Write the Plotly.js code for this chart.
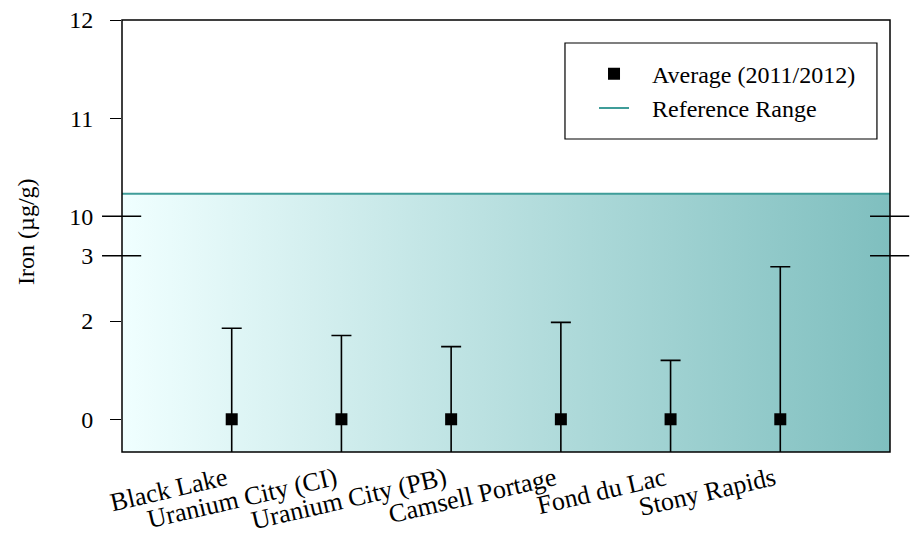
<!DOCTYPE html>
<html>
<head>
<meta charset="utf-8">
<script src="https://cdn.plot.ly/plotly-3.0.1.min.js"></script>
<style>html,body{margin:0;padding:0;background:#fff;}#chart{width:915px;height:536px;}</style>
</head>
<body>
<div id="chart"></div>
<script>
// ---- data ----
const sites = ['Black Lake', 'Uranium City (CI)', 'Uranium City (PB)', 'Camsell Portage', 'Fond du Lac', 'Stony Rapids'];
const avgIron = [0, 0, 0, 0, 0, 0];
const errIron = [1.39, 1.28, 1.11, 1.48, 0.90, 2.33];
const refLow = -1;
const refHigh = 10.23;
const lowerTickVals = [0, 1.5, 2.5];
const lowerTickText = ['0', '2', '3'];
const upperTickVals = [10, 11, 12];
const upperTickText = ['10', '11', '12'];
const avgName = 'Average (2011/2012)';
const refName = 'Reference Range';

// ---- layout helpers ----
const FONT = 'Liberation Serif, Times New Roman, serif';
const PAD = '\u00a0\u00a0\u00a0';
const xPos = sites.map((_, i) => i);
const xRange = [-1, sites.length];
const lowerRange = [-0.5, 2.8];
const upperRange = [9.8, 12];
const gradient = {type: 'horizontal', colorscale: [[0, '#f0ffff'], [1, '#7fbfbf']], start: xRange[0], stop: xRange[1]};
const bandX = [xRange[0], xRange[1], xRange[1], xRange[0]];
const bandY = [refLow, refLow, refHigh, refHigh];

const traces = [
  {x: bandX, y: bandY, xaxis: 'x', yaxis: 'y', type: 'scatter', mode: 'lines', fill: 'toself',
   fillgradient: gradient, line: {width: 0}, showlegend: false, hoverinfo: 'skip'},
  {x: bandX, y: bandY, xaxis: 'x', yaxis: 'y2', type: 'scatter', mode: 'lines', fill: 'toself',
   fillgradient: gradient, line: {width: 0}, showlegend: false, hoverinfo: 'skip'},
  {x: [xRange[0], xRange[1]], y: [refHigh, refHigh], xaxis: 'x', yaxis: 'y2', type: 'scatter', mode: 'lines',
   line: {color: '#3f9d99', width: 2}, name: PAD + refName, legendrank: 2},
  {x: xPos, y: avgIron, xaxis: 'x', yaxis: 'y', type: 'scatter', mode: 'markers',
   marker: {symbol: 'square', size: 12, color: '#000'},
   error_y: {type: 'data', array: errIron, symmetric: true, color: '#000', thickness: 1.6, width: 10},
   name: PAD + avgName, legendrank: 1}
];

const breakShapes = [];
[['y2', upperTickVals[0]], ['y', lowerTickVals[lowerTickVals.length - 1]]].forEach(([yr, v]) => {
  breakShapes.push({type: 'line', xref: 'paper', yref: yr, x0: -0.026, x1: 0.025, y0: v, y1: v, line: {color: '#000', width: 1.5}});
  breakShapes.push({type: 'line', xref: 'paper', yref: yr, x0: 0.974, x1: 1.025, y0: v, y1: v, line: {color: '#000', width: 1.5}});
});

const layout = {
  width: 915, height: 536,
  margin: {l: 122, r: 25, t: 20, b: 84},
  paper_bgcolor: '#fff', plot_bgcolor: '#fff',
  font: {family: FONT, size: 24, color: '#000'},
  showlegend: true,
  xaxis: {range: xRange, tickvals: xPos, ticktext: sites, tickangle: -13, ticks: '', showgrid: false,
          zeroline: false, showline: false, tickfont: {size: 26, family: FONT, color: '#000'}, anchor: 'y',
          ticklabelshift: -6, ticklabelstandoff: 6},
  yaxis: {domain: [0, 0.5], range: lowerRange, tickvals: lowerTickVals, ticktext: lowerTickText,
          ticks: 'outside', ticklen: 11, tickcolor: '#000', tickwidth: 1, ticklabelstandoff: 12,
          showgrid: false, zeroline: false, showline: false, anchor: 'x'},
  yaxis2: {domain: [0.5, 1], range: upperRange, tickvals: upperTickVals, ticktext: upperTickText,
           ticks: 'outside', ticklen: 11, tickcolor: '#000', tickwidth: 1, ticklabelstandoff: 12,
           showgrid: false, zeroline: false, showline: false, anchor: 'x'},
  legend: {x: 0.6146, xanchor: 'left', y: 0.9266, yanchor: 'top', bgcolor: 'rgba(0,0,0,0)', borderwidth: 0,
           font: {family: FONT, size: 24, color: '#000'}, itemwidth: 30},
  shapes: [
    {type: 'rect', xref: 'paper', yref: 'paper', x0: 0, x1: 1, y0: 0, y1: 1, line: {color: '#000', width: 1.5}, fillcolor: 'rgba(0,0,0,0)'},
    {type: 'rect', xref: 'paper', yref: 'paper', x0: 0.5768, x1: 0.983, y0: 0.7245, y1: 0.9468, line: {color: '#000', width: 1.2}, fillcolor: 'rgba(0,0,0,0)'}
  ].concat(breakShapes),
  annotations: [
    {text: 'Iron (µg/g)', xref: 'paper', yref: 'paper', x: -0.126, y: 0.51, xanchor: 'center', yanchor: 'middle',
     textangle: -90, showarrow: false, font: {family: FONT, size: 24, color: '#000'}}
  ]
};

Plotly.newPlot('chart', traces, layout, {displayModeBar: false, staticPlot: true});
</script>
</body>
</html>
